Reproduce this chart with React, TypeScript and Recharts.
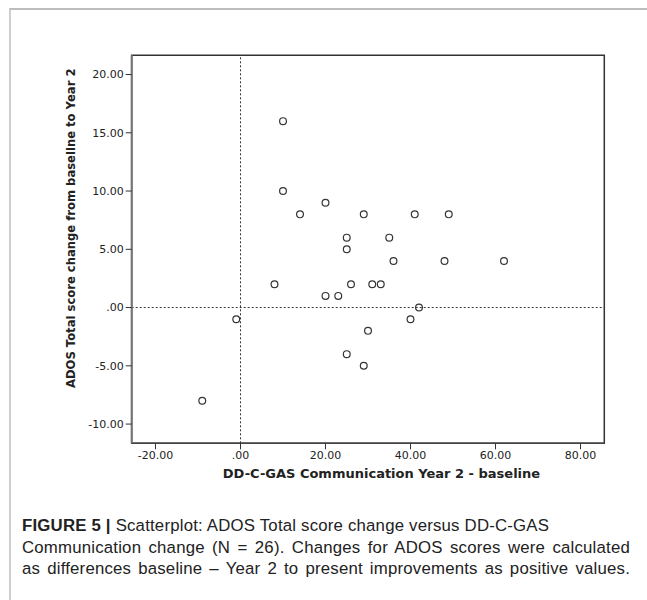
import React from "react";
import {
  ScatterChart,
  Scatter,
  XAxis,
  YAxis,
  ReferenceLine,
  ReferenceArea,
} from "recharts";

// DD-C-GAS Communication change (Year 2 - baseline)
const commChange = [
  10, 10, 14, 20, 29, 41, 49, 25, 35, 25, 36, 48, 62,
  8, 26, 31, 33, 20, 23, 42, -1, 40, 30, 25, 29, -9,
];
// ADOS Total score change (baseline - Year 2)
const adosChange = [
  16, 10, 8, 9, 8, 8, 8, 6, 6, 5, 4, 4, 4,
  2, 2, 2, 2, 1, 1, 0, -1, -1, -2, -4, -5, -8,
];

const xTicks = [-20, 0, 20, 40, 60, 80];
const yTicks = [-10, -5, 0, 5, 10, 15, 20];
const xDomain = [-25.6, 85.6];
const yDomain = [-11.65, 21.65];

const xLabel = "DD-C-GAS Communication Year 2 - baseline";
const yLabel = "ADOS Total score change from baseline to Year 2";
const captionLines = [
  "Scatterplot: ADOS Total score change versus DD-C-GAS",
  "Communication change (N = 26). Changes for ADOS scores were calculated",
  "as differences baseline \u2013 Year 2 to present improvements as positive values.",
];

const points = commChange.map((x, i) => ({ x, y: adosChange[i] }));

const fmt = (v: number) => (v === 0 ? ".00" : v.toFixed(2));

const tickStyle = { fontFamily: "DejaVu Sans", fontSize: 11, fill: "#222" };
const labelFont = "DejaVu Sans";

const Ring = (props: any) => (
  <circle
    cx={props.cx}
    cy={props.cy}
    r={3.4}
    fill="none"
    stroke="#333"
    strokeWidth={1.2}
  />
);

const justified: React.CSSProperties = {
  width: 608,
  textAlign: "justify",
  textAlignLast: "justify",
};

export default function App() {
  return (
    <div
      style={{
        position: "absolute",
        left: 0,
        top: 0,
        width: 647,
        height: 600,
        background: "#fff",
        overflow: "hidden",
      }}
    >
      {/* figure frame */}
      <div
        style={{
          position: "absolute",
          left: 9,
          top: 8,
          width: 660,
          height: 620,
          borderLeft: "2px solid #cfcfcf",
          borderTop: "2px solid #bdbdbd",
        }}
      />

      <div style={{ position: "absolute", left: 0, top: 0 }}>
        <ScatterChart
          width={647}
          height={500}
          margin={{ top: 55.3, right: 42.7, bottom: 26.7, left: 71.7 }}
        >
          <ReferenceArea
            x1={xDomain[0]}
            x2={xDomain[1]}
            y1={yDomain[0]}
            y2={yDomain[1]}
            fill="none"
            stroke="#333"
            strokeWidth={1.5}
            ifOverflow="visible"
          />
          <XAxis
            type="number"
            dataKey="x"
            domain={xDomain}
            ticks={xTicks}
            tickFormatter={fmt}
            height={30}
            tickSize={6}
            tickMargin={2}
            tick={tickStyle}
            axisLine={{ stroke: "#444", strokeWidth: 1.5 }}
            tickLine={{ stroke: "#333" }}
            label={{
              content: (p: any) => {
                const vb = p.viewBox;
                return (
                  <text
                    x={vb.x + vb.width / 2 + 13.5}
                    y={vb.y + 35}
                    textAnchor="middle"
                    fontFamily={labelFont}
                    fontWeight="bold"
                    fontSize={13}
                    fill="#222"
                  >
                    {xLabel}
                  </text>
                );
              },
            }}
          />
          <YAxis
            type="number"
            dataKey="y"
            domain={yDomain}
            ticks={yTicks}
            tickFormatter={fmt}
            width={60}
            tickSize={6}
            tickMargin={2}
            tick={tickStyle}
            axisLine={{ stroke: "#777", strokeWidth: 2 }}
            tickLine={{ stroke: "#333" }}
            label={{
              content: (p: any) => {
                const vb = p.viewBox;
                const cx = 75.5;
                const cy = vb.y + vb.height / 2 - 21;
                return (
                  <text
                    x={cx}
                    y={cy}
                    transform={`rotate(-90 ${cx} ${cy})`}
                    textAnchor="middle"
                    fontFamily={labelFont}
                    fontWeight="bold"
                    fontSize={11.6}
                    fill="#222"
                  >
                    {yLabel}
                  </text>
                );
              },
            }}
          />
          <ReferenceLine x={0} stroke="#333" strokeDasharray="2 2" />
          <ReferenceLine y={0} stroke="#333" strokeDasharray="2 2" />
          <Scatter data={points} shape={Ring} isAnimationActive={false} />
        </ScatterChart>
      </div>

      {/* caption */}
      <div
        style={{
          position: "absolute",
          left: 22,
          top: 515,
          fontFamily: "Liberation Sans",
          fontSize: 16.8,
          letterSpacing: 0.2,
          lineHeight: "21.5px",
          color: "#222",
          whiteSpace: "nowrap",
        }}
      >
        <div>
          <b>FIGURE 5 |</b> {captionLines[0]}
        </div>
        <div style={justified}>{captionLines[1]}</div>
        <div style={justified}>{captionLines[2]}</div>
      </div>
    </div>
  );
}
